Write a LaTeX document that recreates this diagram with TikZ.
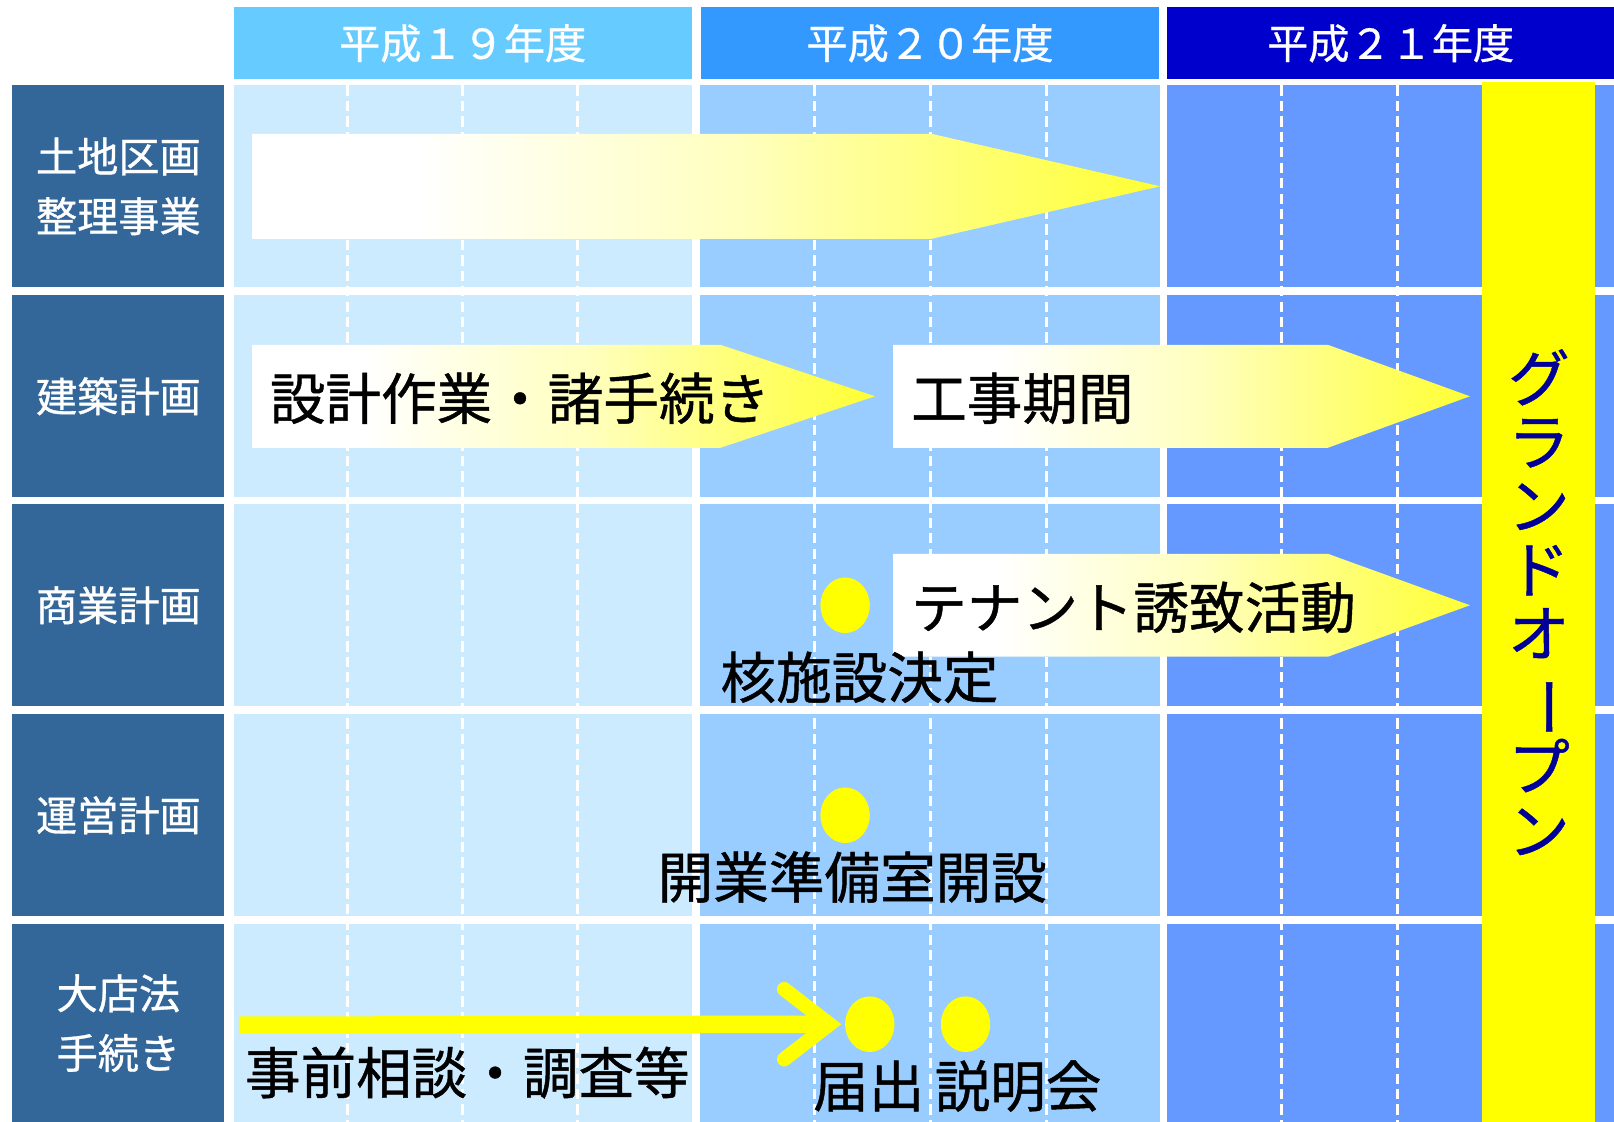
\documentclass[tikz,border=0pt]{standalone}
\usepackage{fontspec}
\setmainfont{Noto Sans CJK JP}
\newfontfamily\jpheavy[FakeBold=0.8]{Noto Sans CJK JP}
\usetikzlibrary{shapes.geometric}
\definecolor{c19}{HTML}{CCEBFF}
\definecolor{c20}{HTML}{99CCFF}
\definecolor{c21}{HTML}{6699FF}
\definecolor{h19}{HTML}{66CCFF}
\definecolor{h20}{HTML}{3399FF}
\definecolor{h21}{HTML}{0000CC}
\definecolor{lab}{HTML}{336699}
\definecolor{ylw}{HTML}{FFFF00}
\definecolor{ayl}{HTML}{FFFF33}
\definecolor{gtxt}{HTML}{000099}
\pgfdeclarehorizontalshading{whyl}{100bp}{color(0bp)=(white); color(25bp)=(white); color(34bp)=(white); color(52bp)=(ayl!32!white); color(75bp)=(ayl); color(100bp)=(ayl)}
\begin{document}
\begin{tikzpicture}[x=1pt,y=-1pt,
  hdr/.style={minimum width=445pt, minimum height=70pt, inner sep=0pt, text=white, font=\jpheavy\fontsize{40}{44}\selectfont},
  labbox/.style={fill=lab, minimum width=206pt, inner sep=0pt, text=white, align=center, font=\jpheavy\fontsize{40}{58}\selectfont},
  dashline/.style={white, line width=3pt, dash pattern=on 10pt off 5pt},
  bararrow/.style={shading=whyl},
  btxt/.style={inner sep=0pt, text=black, font=\jpheavy\fontsize{54}{60}\selectfont},
  dot/.style={ellipse, fill=ylw, minimum width=48pt, minimum height=54pt, inner sep=0pt},
  yline/.style={ylw, line width=17pt},
  ychev/.style={ylw, line width=14pt, line cap=round, line join=miter}
]
\useasboundingbox (0,0) rectangle (1568,1090);
\fill[white] (0,0) rectangle (1568,1090);

% headers
\node[hdr, fill=h19] (hy19) at (449.5,42) {平成１９年度};
\node[hdr, fill=h20] (hy20) at (903.5,42) {平成２０年度};
\node[hdr, fill=h21, minimum width=434pt] (hy21) at (1351,42) {平成２１年度};

% grid cells
\foreach \t/\b in {83/279, 287/483, 490/686, 694/890, 898/1090} {
  \fill[c19] (227,\t) rectangle (672,\b);
  \fill[c20] (680,\t) rectangle (1127,\b);
  \fill[c21] (1134,\t) rectangle (1568,\b);
}
\foreach \x in {338,449,561,791,904,1017,1245,1358,1471}
  \draw[dashline] (\x,83) -- (\x,1090);

% row labels
\node[labbox, minimum height=196pt] (l1) at (115,181) {土地区画\\整理事業};
\node[labbox, minimum height=196pt] (l2) at (115,385) {建築計画};
\node[labbox, minimum height=196pt] (l3) at (115,588) {商業計画};
\node[labbox, minimum height=196pt] (l4) at (115,792) {運営計画};
\node[labbox, minimum height=192pt] (l5) at (115,994) {大店法\\手続き};

% arrows
\shade[bararrow] (245,130) -- (905,130) -- (1127,181) -- (905,232) -- (245,232) -- cycle;
\shade[bararrow] (245,335) -- (700,335) -- (850,385) -- (700,435) -- (245,435) -- cycle;
\shade[bararrow] (868,335) -- (1290,335) -- (1428,385) -- (1290,435) -- (868,435) -- cycle;
\shade[bararrow] (868,538) -- (1290,538) -- (1428,588) -- (1290,638) -- (868,638) -- cycle;

\node[btxt, anchor=west] (t1) at (262,387) {設計作業・諸手続き};
\node[btxt, anchor=west] (t2) at (885,387) {工事期間};
\node[btxt, anchor=west] (t3) at (885,590) {テナント誘致活動};

% milestones
\node[dot] (d3) at (821,588) {};
\node[btxt] (k3) at (835,658) {核施設決定};
\node[dot] (d4) at (821,792) {};
\node[btxt] (k4) at (828,852) {開業準備室開設};
\node[dot] (d5a) at (845,995) {};
\node[dot] (d5b) at (938,995) {};
\node[btxt] (k5a) at (844,1055) {届出};
\node[btxt] (k5b) at (989,1055) {説明会};
\node[btxt] (k5) at (454,1042) {事前相談・調査等};

% 大店法 arrow
\coordinate (a5s) at (232,996);
\coordinate (a5e) at ([xshift=-15pt]d5a.west);
\draw[yline] (a5s) -- (a5e);
\draw[ychev] ([xshift=-44pt,yshift=34pt]a5e) -- (a5e) -- ([xshift=-44pt,yshift=-34pt]a5e);

% grand open bar
\node[fill=ylw, minimum width=110pt, minimum height=1010pt, inner sep=0pt, text=gtxt, align=center,
  font=\jpheavy\fontsize{60}{62}\selectfont] (go) at (1495,585)
  {グ\\ラ\\ン\\ド\\オ\\\rotatebox[origin=c]{-90}{ー}\\プ\\ン};
\end{tikzpicture}
\end{document}
